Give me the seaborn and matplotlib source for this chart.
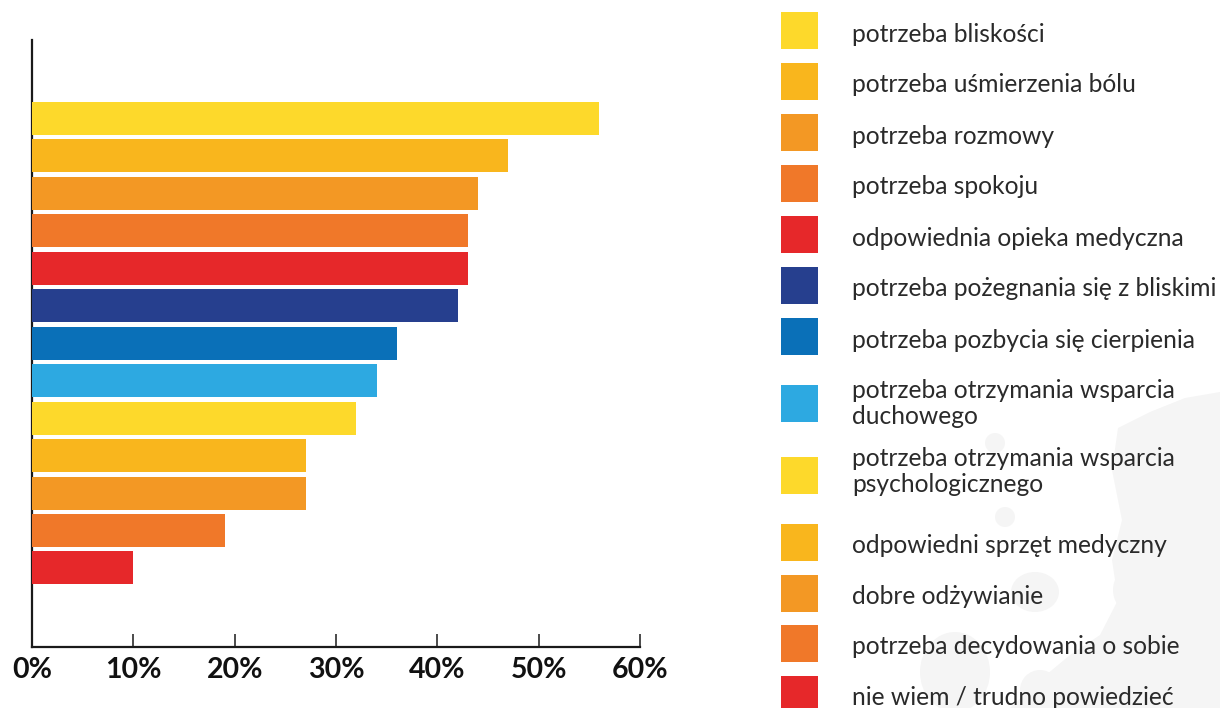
import matplotlib
matplotlib.use("Agg")
import matplotlib.pyplot as plt
import seaborn as sns
import pandas as pd
from matplotlib.patches import Rectangle, Ellipse, Polygon

# ---- data -------------------------------------------------------------
categories = [
    "potrzeba bliskości",
    "potrzeba uśmierzenia bólu",
    "potrzeba rozmowy",
    "potrzeba spokoju",
    "odpowiednia opieka medyczna",
    "potrzeba pożegnania się z bliskimi",
    "potrzeba pozbycia się cierpienia",
    "potrzeba otrzymania wsparcia\nduchowego",
    "potrzeba otrzymania wsparcia\npsychologicznego",
    "odpowiedni sprzęt medyczny",
    "dobre odżywianie",
    "potrzeba decydowania o sobie",
    "nie wiem / trudno powiedzieć",
]
values = [56, 47, 44, 43, 43, 42, 36, 34, 32, 27, 27, 19, 10]
colors = [
    "#FDD92B", "#F9B61D", "#F39824", "#F07829", "#E6282A", "#263F8E",
    "#0A70B8", "#2DA9E1", "#FDD92B", "#F9B61D", "#F39824", "#F07829",
    "#E6282A",
]
x_ticks = [0, 10, 20, 30, 40, 50, 60]
x_tick_labels = ["0%", "10%", "20%", "30%", "40%", "50%", "60%"]

# ---- figure setup -----------------------------------------------------
sns.set_theme(style="white")
plt.rcParams["font.family"] = ["Lato", "DejaVu Sans"]

W, H = 1220, 708
fig = plt.figure(figsize=(W / 100, H / 100), dpi=100)
fig.patch.set_facecolor("white")

# background layer in pixel coordinates (decorative shapes + legend)
bg = fig.add_axes([0, 0, 1, 1], zorder=0)
bg.set_xlim(0, W)
bg.set_ylim(H, 0)
bg.axis("off")

blob = "#F5F5F5"
bg.add_patch(Polygon([(1220, 392), (1185, 398), (1150, 412), (1118, 428),
                      (1112, 470), (1122, 520), (1112, 560), (1118, 600),
                      (1100, 635), (1070, 655), (1040, 680), (1010, 708),
                      (1220, 708)], closed=True, color=blob, lw=0, zorder=0))
bg.add_patch(Ellipse((995, 443), 20, 20, color=blob, lw=0, zorder=0))
bg.add_patch(Ellipse((1005, 517), 20, 20, color=blob, lw=0, zorder=0))
bg.add_patch(Ellipse((1035, 592), 48, 40, color=blob, lw=0, zorder=0))
bg.add_patch(Ellipse((1128, 590), 30, 40, color=blob, lw=0, zorder=0))
bg.add_patch(Ellipse((955, 672), 70, 80, color=blob, lw=0, zorder=0))
bg.add_patch(Ellipse((1040, 690), 40, 40, color=blob, lw=0, zorder=0))

# ---- bar chart --------------------------------------------------------
left, right, top, bottom = 32, 640, 40, 647
ax = fig.add_axes([left / W, (H - bottom) / H, (right - left) / W,
                   (bottom - top) / H], zorder=1)
ax.set_facecolor("none")

df = pd.DataFrame({"kategoria": categories, "procent": values})
sns.barplot(data=df, x="procent", y="kategoria", hue="kategoria",
            palette=colors, legend=False, saturation=1, width=0.88,
            orient="h", ax=ax)
for bar in ax.patches:
    bar.set_linewidth(0)
    bar.set_zorder(3)

ax.set_xlim(0, 60)
ax.set_ylim(14.11, -2.095)
ax.set_yticks([])
ax.set_xticks(x_ticks)
ax.set_xlabel("")
ax.set_ylabel("")

for side in ("top", "right"):
    ax.spines[side].set_visible(False)
for side in ("left", "bottom"):
    ax.spines[side].set_visible(True)
    ax.spines[side].set_color("#1a1a1a")
    ax.spines[side].set_linewidth(1.6)
    ax.spines[side].set_zorder(1)

ax.set_xticklabels(x_tick_labels, fontsize=20.5, fontweight="bold",
                   color="#111111")
ax.tick_params(axis="x", direction="in", length=9.5, width=1.1,
               color="#1a1a1a", pad=7.5, bottom=True)

# ---- legend -----------------------------------------------------------
renderer = fig.canvas.get_renderer()
probe = bg.text(0, 0, "potrzeba pożegnania się z bliskimi", fontsize=16)
legend_fs = 16 * 366 / probe.get_window_extent(renderer).width
probe.remove()

row_centers = [30.5, 81.5, 132.5, 183.5, 234.5, 285.5, 336.5,
               403.5, 475.5, 542.5, 593.5, 643.5, 694.5]
first_baselines = [41.5, 92.5, 143.5, 194.5, 245.5, 296.5, 347.5,
                   398, 466, 553, 604, 654, 705]
sq = 37
line_step = 26
for label, col, cy, base in zip(categories, colors, row_centers,
                                first_baselines):
    bg.add_patch(Rectangle((781, cy - sq / 2), sq, sq, color=col, lw=0,
                           zorder=2))
    for i, line in enumerate(label.split("\n")):
        bg.text(852, base + i * line_step, line, fontsize=legend_fs,
                color="#2a2a2a", va="baseline", ha="left", zorder=3)

fig.savefig("out.png", dpi=100, facecolor="white")
